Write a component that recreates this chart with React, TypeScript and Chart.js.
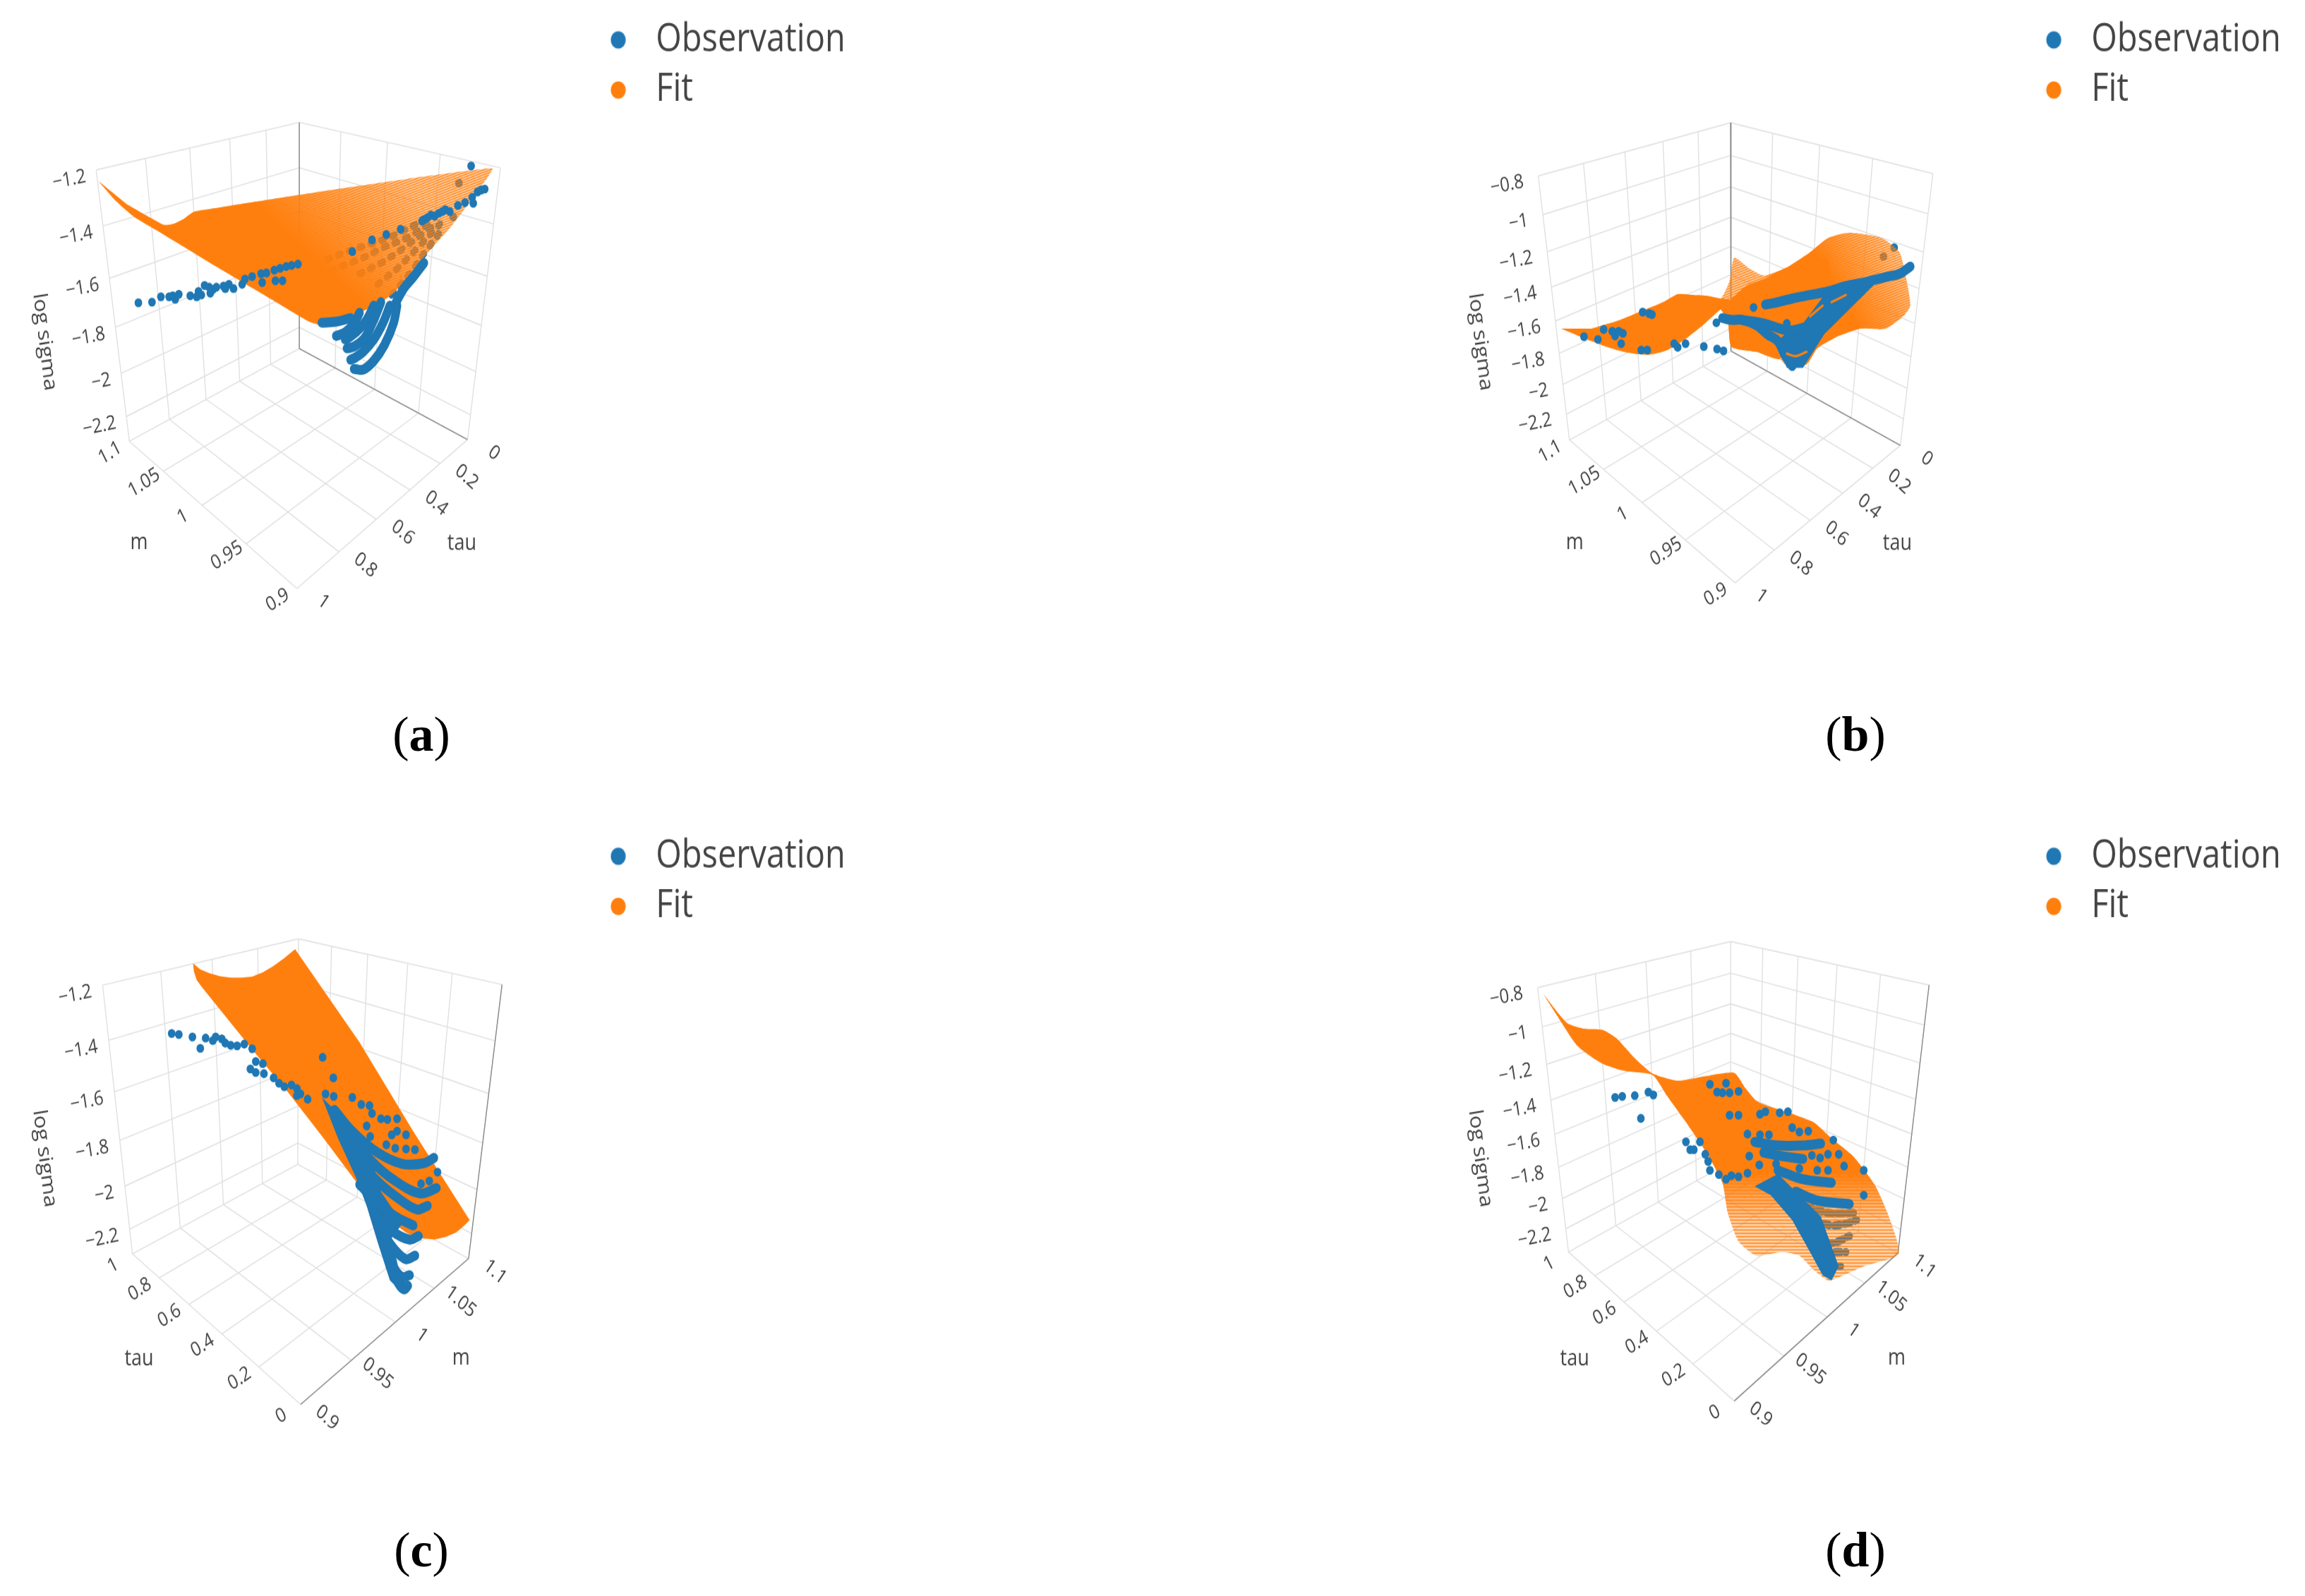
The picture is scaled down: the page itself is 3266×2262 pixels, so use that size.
import React, { useEffect, useRef } from "react";
import { Chart, registerables } from "chart.js";

Chart.register(...registerables);

type P = number[];

// ---- axis tick values ----
const TAU_TICKS = [0, 0.2, 0.4, 0.6, 0.8, 1];
const M_TICKS = [0.9, 0.95, 1, 1.05, 1.1];
const Z_TICKS_AC = [-2.2, -2, -1.8, -1.6, -1.4, -1.2];
const Z_TICKS_BD = [-2.2, -2, -1.8, -1.6, -1.4, -1.2, -1, -0.8];

const SERIES_NAMES = ["Observation", "Fit"];
const BLUE = "#1f77b4";
const ORANGE = "#ff7f0e";

// ---- panel (a): values read in the plane of the picture ----
const A_FIT_ALL: P[] = [[271,250],[320,306],[370,350],[450,398],[600,490],[700,550],[800,610],[860,645],[895,655],[930,650],[1000,620],[1060,590],[1100,560],[1150,500],[1200,440],[1250,385],[1300,320],[1340,265],[1370,213],[540,335],[510,355],[480,370],[455,373],[420,355],[350,315]];
const A_OBS_DOTS: P[] = [[382,592],[420,590],[445,575],[468,575],[485,582],[478,572],[495,568],[527,572],[545,575],[558,570],[550,560],[567,543],[580,548],[590,555],[583,565],[600,548],[620,545],[635,540],[648,552],[625,552],[672,540],[680,525],[700,518],[728,535],[725,510],[740,508],[765,530],[785,530],[762,500],[778,495],[795,490],[810,487],[828,483],[980,448],[1035,415],[1075,400],[1115,385],[1180,358],[1200,345],[1222,340],[1240,330],[1252,335],[1275,318],[1295,310],[1315,295],[1318,312],[1330,280],[1350,272],[1312,207],[1175,362],[1190,352],[1210,348],[1232,335],[1340,275]];
const A_OBS_BEHIND: P[][] = [
  [[910,470],[960,450],[1020,430],[1100,400],[1170,365]],
  [[920,500],[1000,470],[1060,440],[1130,410],[1210,360]],
  [[1000,510],[1060,480],[1120,440],[1200,380]],
  [[1050,540],[1100,500],[1160,440],[1225,370]],
  [[1090,570],[1140,510],[1190,440],[1235,380]],
];
const A_OBS_BEHIND_DOTS: P[] = [[1278,255],[1262,350]];
const A_OBS_FAN: P[][] = [
  [[1105,600],[1095,650],[1070,710],[1040,755],[1010,780],[985,778]],
  [[1085,600],[1065,650],[1040,695],[1010,730],[985,748],[975,752]],
  [[1060,590],[1040,640],[1015,690],[985,715],[965,720]],
  [[1040,600],[1020,640],[995,670],[970,690],[960,695]],
  [[1000,620],[985,650],[960,675],[935,685]],
  [[975,635],[935,645],[895,648]],
  [[1180,480],[1150,520],[1125,550],[1100,595]],
];

// ---- panel (b) ----
const B_FIT_ALL: P[] = [[355,665],[420,692],[480,715],[540,732],[600,738],[650,725],[700,695],[750,655],[800,610],[820,640],[830,715],[900,730],[965,750],[985,770],[1040,765],[1070,720],[1120,690],[1190,665],[1260,665],[1310,630],[1330,600],[1320,530],[1300,450],[1250,410],[1160,395],[1100,410],[1050,450],[990,490],[920,515],[880,495],[838,465],[825,530],[800,580],[760,572],[720,570],[680,568],[640,590],[580,615],[520,640],[440,665]];
const B_FIT_SOLID_L: P[] = [[355,665],[420,692],[480,715],[540,732],[600,738],[650,725],[700,695],[750,655],[800,610],[830,585],[800,580],[760,572],[720,570],[680,568],[640,590],[580,615],[520,640],[440,665]];
const B_FIT_SOLID_R: P[] = [[800,610],[820,640],[830,715],[900,730],[965,750],[1000,690],[1100,600],[1100,470],[1050,470],[990,490],[920,525],[870,545],[820,590]];
const B_OBS_DOTS: P[] = [[418,687],[457,695],[473,667],[497,672],[505,685],[515,672],[527,678],[522,707],[582,618],[600,622],[608,625],[578,725],[595,725],[670,707],[680,717],[702,707],[753,715],[790,722],[808,727],[788,648],[892,605],[985,650]];
const B_OBS_BEHIND_DOTS: P[] = [[1255,462],[1285,437],[625,630],[640,630],[655,630]];
const B_OBS_BANDS: P[][] = [
  [[805,635],[830,640],[860,640],[900,655],[930,680],[960,700],[980,740],[1000,770]],
  [[925,597],[960,590],[1000,580],[1050,570],[1100,560],[1150,545],[1200,535],[1260,520],[1300,510],[1330,490]],
  [[860,640],[920,650],[990,670],[1040,660]],
];
const B_OBS_WEDGE: P[] = [[960,700],[985,775],[1030,775],[1090,680],[1140,630],[1200,570],[1240,530],[1150,545],[1090,570],[1060,610],[1030,650],[980,680]];
const B_FIT_STREAKS: P[][] = [
  [[985,735],[1010,742],[1040,730]],
  [[1110,590],[1150,570]],
  [[960,640],[1000,622],[1045,612]],
  [[1050,630],[1085,600]],
];

// ---- panel (c) ----
const C_FIT_ALL: P[] = [[535,148],[555,165],[580,175],[610,184],[640,188],[670,188],[700,185],[730,173],[760,155],[790,133],[820,108],[1000,370],[1150,620],[1308,870],[1290,888],[1270,905],[1240,918],[1210,925],[1180,922],[1150,915],[1130,905],[1070,860],[1000,775],[900,640],[800,510],[700,390],[600,265],[560,215],[545,195],[537,170]];
const C_OBS_DOTS: P[] = [[475,345],[495,348],[533,355],[555,387],[570,358],[590,365],[598,355],[615,360],[625,372],[640,378],[658,380],[678,375],[700,388],[710,424],[730,430],[695,445],[710,455],[733,458],[760,470],[775,485],[790,495],[810,490],[825,500],[835,515],[855,530],[825,520],[897,412],[927,470],[905,515],[928,522],[980,525],[1005,545],[1028,548],[1035,570],[1060,585],[1078,587],[1105,585],[1105,620],[1130,630],[1020,605],[1030,635],[1075,658],[1100,668],[1130,670],[1155,672],[1090,630],[1208,695],[1218,735],[1195,760],[1172,768],[1210,780]];
const C_OBS_FAN: P[][] = [
  [[930,560],[980,620],[1050,680],[1120,712],[1180,710],[1208,695]],
  [[960,610],[1030,700],[1100,760],[1170,795],[1215,780]],
  [[980,680],[1050,760],[1110,810],[1160,840],[1190,830]],
  [[1000,770],[1050,820],[1100,860],[1150,885]],
  [[1040,850],[1090,900],[1140,925],[1165,915]],
  [[1060,900],[1100,955],[1130,980],[1155,970]],
  [[1070,950],[1100,1010],[1120,1030],[1140,1025]],
  [[1085,1000],[1110,1050],[1125,1065],[1135,1055]],
];
const C_OBS_WEDGE: P[] = [[895,525],[960,590],[1040,720],[1060,790],[1120,880],[1090,920],[1110,1010],[1135,1060],[1115,1070],[1085,1040],[1050,930],[1020,830],[990,750],[940,640]];

// ---- panel (d) ----
const D_UPPER: P[] = [[305,235],[370,315],[420,332],[470,335],[510,360],[560,415],[610,458],[680,478],[760,465],[838,456],[870,500],[900,535],[950,555],[1010,575],[1060,595],[1110,640],[1170,690],[1230,770]];
const D_LOWER_HATCH: P[] = [[1270,860],[1298,965],[1200,1000],[1120,1035],[1100,1040],[1060,1010],[1020,970],[970,960],[900,970],[850,930],[820,850],[805,765]];
const D_LEFT_EDGE: P[] = [[760,680],[700,590],[650,520],[610,462],[530,450],[470,430],[400,380],[340,290]];
const D_OBS_DOTS: P[] = [[505,525],[525,522],[560,520],[598,510],[612,518],[577,584],[703,650],[715,672],[725,672],[742,650],[757,685],[765,705],[770,730],[795,742],[815,755],[830,745],[850,748],[875,738],[770,488],[790,510],[815,485],[805,512],[825,512],[850,508],[825,575],[850,575],[910,572],[925,565],[965,568],[988,565],[875,628],[910,630],[935,630],[880,690],[908,715],[955,712],[1055,688],[1078,695],[1100,685],[1130,685],[1070,730],[1100,730],[1145,718],[1020,725],[1200,730],[1200,800],[1000,610],[1020,622],[1045,620],[1115,645]];
const D_OBS_BANDS: P[][] = [
  [[895,650],[960,660],[1030,660],[1080,655]],
  [[920,680],[970,690],[1030,698]],
  [[960,730],[1030,755],[1110,765]],
  [[1010,790],[1070,815],[1160,825]],
];
const D_OBS_WEDGE: P[] = [[895,775],[960,740],[1010,790],[1080,860],[1130,1000],[1110,1040],[1085,1025],[1050,960],[1000,870],[940,800]];
const D_OBS_BEHIND: P[][] = [
  [[1040,830],[1100,850],[1175,850]],
  [[1060,870],[1110,885],[1150,880],[1180,870]],
  [[1070,920],[1110,935],[1160,915]],
  [[1090,960],[1150,960]],
  [[1100,1000],[1135,1000]],
];

// ---- layout of the four panels (crop units: 1.96 per page pixel) ----
const UNIT = 1.96;
const STRETCH = 1.17;
const BMP_W = 1203;
const BMP_H = 860;
const AREA_W = 848;
const SHIFT_X = 3;
const SHIFT_Y = 4;

type Corner = [number, number, number, number, number];

const PANELS: any[] = [
  { id: "a", left: 0, top: 13, cropX: 0, cropY: 130, zMin: -2.32, zMax: -1.2, zTicks: Z_TICKS_AC, flip: false,
    corners: [[1,1,0,360,985],[1,0,0,820,1395],[0,0,0,1305,975],[0,1,0,830,720],[1,1,1,265,215],[0,1,1,830,85],[0,0,1,1395,215]] as Corner[],
    zOff: [-29, 18], mTitle: [384,1266], tauTitle: [1286,1269], zTitle: [120,702] },
  { id: "b", left: 2034, top: 13, cropX: 2030, cropY: 130, zMin: -2.38, zMax: -0.8, zTicks: Z_TICKS_BD, flip: false,
    corners: [[1,1,0,380,980],[1,0,0,835,1380],[0,0,0,1305,990],[0,1,0,828,728],[1,1,1,292,232],[0,1,1,825,85],[0,0,1,1395,232]] as Corner[],
    zOff: [-41, 16], mTitle: [392,1266], tauTitle: [1294,1269], zTitle: [128,702] },
  { id: "c", left: 0, top: 1170, cropX: 0, cropY: 1290, zMin: -2.32, zMax: -1.2, zTicks: Z_TICKS_AC, flip: true,
    corners: [[1,0,0,368,965],[0,0,0,832,1390],[0,1,0,1308,975],[1,1,0,825,715],[1,0,1,282,208],[1,1,1,830,78],[0,1,1,1398,210]] as Corner[],
    zOff: [-31, 18], mTitle: [1284,1259], tauTitle: [384,1262], zTitle: [120,697] },
  { id: "d", left: 2034, top: 1170, cropX: 2030, cropY: 1290, zMin: -2.36, zMax: -0.8, zTicks: Z_TICKS_BD, flip: true,
    corners: [[1,0,0,378,968],[0,0,0,832,1375],[0,1,0,1298,965],[1,1,0,828,700],[1,0,1,290,210],[1,1,1,825,90],[0,1,1,1385,210]] as Corner[],
    zOff: [-41, 16], mTitle: [1292,1259], tauTitle: [392,1262], zTitle: [128,697] },
];

const CAPTIONS = [
  { id: "a", x: 597, y: 1041 },
  { id: "b", x: 2629, y: 1041 },
  { id: "c", x: 597, y: 2197 },
  { id: "d", x: 2629, y: 2197 },
];

// ---- perspective of the box, solved from its corners ----
function solve(A: number[][], b: number[]): number[] {
  const n = b.length;
  const M = A.map((r, i) => [...r, b[i]]);
  for (let c = 0; c < n; c++) {
    let piv = c;
    for (let r = c + 1; r < n; r++) if (Math.abs(M[r][c]) > Math.abs(M[piv][c])) piv = r;
    [M[c], M[piv]] = [M[piv], M[c]];
    for (let r = 0; r < n; r++) {
      if (r === c) continue;
      const f = M[r][c] / M[c][c];
      for (let k = c; k <= n; k++) M[r][k] -= f * M[c][k];
    }
  }
  return M.map((r, i) => r[n] / r[i]);
}

function makeProjector(corners: Corner[]) {
  const rows: number[][] = [];
  const rhs: number[] = [];
  corners.forEach(([t, m, z, sx, sy]) => {
    const x = sx / 1000, y = sy / 1000;
    rows.push([t, m, z, 1, 0, 0, 0, 0, -x * t, -x * m, -x * z]); rhs.push(x);
    rows.push([0, 0, 0, 0, t, m, z, 1, -y * t, -y * m, -y * z]); rhs.push(y);
  });
  const N = 11;
  const AtA = Array.from({ length: N }, () => new Array(N).fill(0));
  const Atb = new Array(N).fill(0);
  rows.forEach((r, i) => {
    for (let a = 0; a < N; a++) {
      Atb[a] += r[a] * rhs[i];
      for (let b = 0; b < N; b++) AtA[a][b] += r[a] * r[b];
    }
  });
  const h = solve(AtA, Atb);
  return (t: number, m: number, z: number) => {
    const w = h[8] * t + h[9] * m + h[10] * z + 1;
    return {
      x: (1000 * (h[0] * t + h[1] * m + h[2] * z + h[3])) / w,
      y: (1000 * (h[4] * t + h[5] * m + h[6] * z + h[7])) / w,
    };
  };
}

const pts = (a: P[]) => a.map(([x, y]) => ({ x, y }));

function hatch(color: string, lw: number, w: number, h: number, rising: boolean) {
  const c = document.createElement("canvas");
  c.width = w;
  c.height = h;
  const g = c.getContext("2d")!;
  g.fillStyle = "rgba(255,127,14,0.32)";
  g.fillRect(0, 0, w, h);
  g.strokeStyle = color;
  g.lineWidth = lw;
  g.beginPath();
  for (let i = -1; i <= 1; i++) {
    if (rising) {
      g.moveTo(0, h + i * h);
      g.lineTo(w, i * h);
    } else {
      g.moveTo(0, h / 2 + i * h);
      g.lineTo(w, h / 2 + i * h);
    }
  }
  g.stroke();
  return g.createPattern(c, "repeat")!;
}

function legendDot(color: string) {
  const c = document.createElement("canvas");
  c.width = 64;
  c.height = 40;
  const g = c.getContext("2d")!;
  g.fillStyle = color;
  g.beginPath();
  g.arc(24.3, 20, 10.6, 0, Math.PI * 2);
  g.fill();
  return c;
}

const dots = (a: P[], r = 5.4) => ({ data: pts(a), showLine: false, pointRadius: r, pointBackgroundColor: BLUE, pointBorderWidth: 0 });
const ribbon = (a: P[], w = 12, color = BLUE, dash?: number[]) => ({
  data: pts(a), showLine: true, pointRadius: 0, borderColor: color, borderWidth: w, tension: 0.35,
  borderCapStyle: "round", borderJoinStyle: "round", borderDash: dash || [],
});
const shape = (a: P[], fill: any, tension = 0.2) => ({
  data: pts(a), showLine: true, pointRadius: 0, borderWidth: 0, tension, fill: "shape", backgroundColor: fill,
});

function paintLayers(id: string, ctx: CanvasRenderingContext2D, xMin: number, yMin: number) {
  const rising = hatch("rgba(255,127,14,0.9)", 1.5, 9, 3, true);
  const flat = hatch("rgba(255,127,14,0.9)", 1.4, 4, 4, false);
  // surface density: solid at the first point, thinning out towards the second
  const fade = (x0: number, y0: number, x1: number, y1: number) => {
    const g = ctx.createLinearGradient(
      (x0 - xMin) / UNIT, (y0 - yMin) / (UNIT * STRETCH),
      (x1 - xMin) / UNIT, (y1 - yMin) / (UNIT * STRETCH),
    );
    g.addColorStop(0, "rgba(255,127,14,1)");
    g.addColorStop(1, "rgba(255,127,14,0)");
    return g;
  };
  if (id === "a") return [
    ...A_OBS_BEHIND.map((c) => ribbon(c, 9, BLUE, [4, 12])),
    dots(A_OBS_BEHIND_DOTS),
    shape(A_FIT_ALL, rising),
    shape(A_FIT_ALL, fade(880, 470, 1066, 197)),
    ...A_OBS_FAN.map((c) => ribbon(c)),
    dots(A_OBS_DOTS),
  ];
  if (id === "b") return [
    dots(B_OBS_BEHIND_DOTS),
    shape(B_FIT_ALL, rising),
    shape(B_FIT_SOLID_L, ORANGE),
    shape(B_FIT_ALL.slice(13, 28), fade(1130, 560, 1280, 440)),
    shape(B_FIT_SOLID_R, ORANGE),
    shape(B_OBS_WEDGE, BLUE, 0),
    ...B_OBS_BANDS.map((c) => ribbon(c)),
    ...B_FIT_STREAKS.map((c) => ribbon(c, 3, ORANGE)),
    dots(B_OBS_DOTS),
  ];
  if (id === "c") return [
    shape(C_FIT_ALL, ORANGE, 0),
    shape(C_OBS_WEDGE, BLUE, 0),
    ...C_OBS_FAN.map((c) => ribbon(c)),
    dots(C_OBS_DOTS),
  ];
  const dOutline = [...D_UPPER, ...D_LOWER_HATCH, ...D_LEFT_EDGE];
  return [
    ...D_OBS_BEHIND.map((c) => ribbon(c, 10, BLUE, [8, 7])),
    shape(dOutline, flat),
    shape(dOutline, fade(1000, 740, 1000, 880)),
    shape(D_OBS_WEDGE, BLUE, 0),
    ...D_OBS_BANDS.map((c) => ribbon(c)),
    dots(D_OBS_DOTS),
  ];
}

const fmt = (v: number) => String(v).replace("-", "\u2212");

function PanelChart({ panel }: { panel: any }) {
  const ref = useRef<HTMLCanvasElement>(null);
  useEffect(() => {
    const project = makeProjector(panel.corners);
    const zU = (z: number) => (z - panel.zMin) / (panel.zMax - panel.zMin);
    const mU = (m: number) => (m - 0.9) / 0.2;
    const grid: any[] = [];
    const seg = (a: any, b: any) => { grid.push(a, b, { x: NaN, y: NaN }); };
    const kTau = panel.flip ? 1 : 0; // tau of the back wall
    const zs = [...panel.zTicks, panel.zMin, panel.zMax];
    // floor
    TAU_TICKS.forEach((t) => seg(project(t, 0, 0), project(t, 1, 0)));
    M_TICKS.forEach((m) => seg(project(0, mU(m), 0), project(1, mU(m), 0)));
    // the wall at m = 1.1 and the wall at the far tau
    const farM = 1;
    TAU_TICKS.forEach((t) => seg(project(t, farM, 0), project(t, farM, 1)));
    M_TICKS.forEach((m) => seg(project(kTau, mU(m), 0), project(kTau, mU(m), 1)));
    zs.forEach((z) => {
      seg(project(0, farM, zU(z)), project(1, farM, zU(z)));
      seg(project(kTau, 0, zU(z)), project(kTau, 1, zU(z)));
    });
    const dark = panel.flip
      ? [project(0, 0, 0), project(0, 1, 0), { x: NaN, y: NaN }, project(0, 1, 0), project(0, 1, 1)]
      : [project(0, 1, 1), project(0, 1, 0), { x: NaN, y: NaN }, project(0, 1, 0), project(0, 0, 0)];

    const xMin = (panel.left - panel.cropX + SHIFT_X) * UNIT;
    const yMin = (panel.top - panel.cropY + SHIFT_Y) * UNIT;

    const layers: any[] = [
      { data: grid, showLine: true, pointRadius: 0, borderColor: "#e0e0e0", borderWidth: 1.4, tension: 0, spanGaps: false },
      { data: dark, showLine: true, pointRadius: 0, borderColor: "#8a8a8a", borderWidth: 1.4, tension: 0, spanGaps: false },
      ...paintLayers(panel.id, ref.current!.getContext("2d")!, xMin, yMin),
    ];
    layers.forEach((d, i) => { d.order = -i; });

    const labelPlugin = {
      id: "axisText",
      afterDraw(chart: any) {
        const { ctx } = chart;
        const sx = (v: number) => chart.scales.x.getPixelForValue(v);
        const sy = (v: number) => chart.scales.y.getPixelForValue(v);
        const text = (s: string, x: number, y: number, angle: number, size: number, align = "center") => {
          ctx.save();
          ctx.translate(sx(x), sy(y));
          ctx.rotate((angle * Math.PI) / 180);
          ctx.font = `${size}px "Open Sans"`;
          ctx.fillStyle = "#444";
          ctx.textAlign = align;
          ctx.textBaseline = "middle";
          ctx.fillText(s, 0, 0);
          ctx.restore();
        };
        panel.zTicks.forEach((z: number) => {
          const q = panel.flip ? project(1, 0, zU(z)) : project(1, 1, zU(z));
          text(fmt(z), q.x + panel.zOff[0], q.y + panel.zOff[1], -10, 24, "right");
        });
        const LF = [-54, 33];
        const RF = [74, 38];
        M_TICKS.forEach((m) => {
          const q = panel.flip ? project(0, mU(m), 0) : project(1, mU(m), 0);
          const o = panel.flip ? RF : LF;
          text(String(m), q.x + o[0], q.y + o[1], panel.flip ? 38 : -30, 24);
        });
        TAU_TICKS.forEach((t) => {
          const q = project(t, 0, 0);
          const o = panel.flip ? LF : RF;
          text(String(t), q.x + o[0], q.y + o[1], panel.flip ? -30 : 38, 24);
        });
        text("m", panel.mTitle[0], panel.mTitle[1], 0, 27);
        text("tau", panel.tauTitle[0], panel.tauTitle[1], 0, 27);
        text("log sigma", panel.zTitle[0], panel.zTitle[1], 82, 27);
      },
    };

    const chart = new Chart(ref.current!, {
      type: "scatter",
      data: { datasets: layers },
      plugins: [labelPlugin],
      options: {
        animation: false,
        responsive: false,
        devicePixelRatio: 1,
        events: [],
        layout: { padding: 0 },
        scales: {
          x: { type: "linear", display: false, min: xMin, max: xMin + AREA_W * UNIT },
          y: { type: "linear", display: false, reverse: true, min: yMin, max: yMin + BMP_H * STRETCH * UNIT },
        },
        plugins: {
          tooltip: { enabled: false },
          title: { display: false },
          legend: {
            position: "right",
            align: "start",
            maxWidth: BMP_W - AREA_W,
            onClick: () => {},
            labels: {
              usePointStyle: true,
              boxWidth: 44,
              boxHeight: 13,
              padding: 13.7,
              color: "#444",
              font: { family: '"Open Sans"', size: 47 },
              generateLabels: () =>
                SERIES_NAMES.map((text, i) => ({
                  text,
                  fillStyle: i ? ORANGE : BLUE,
                  strokeStyle: i ? ORANGE : BLUE,
                  lineWidth: 0,
                  hidden: false,
                  fontColor: "#444",
                  pointStyle: legendDot(i ? ORANGE : BLUE),
                  datasetIndex: i,
                })),
            },
          },
        },
      } as any,
    } as any);
    return () => chart.destroy();
  }, [panel]);

  return (
    <div
      style={{
        position: "absolute",
        left: panel.left,
        top: panel.top,
        width: BMP_W,
        height: BMP_H,
        transform: `scaleY(${STRETCH})`,
        transformOrigin: "0 0",
      }}
    >
      <canvas ref={ref} width={BMP_W} height={BMP_H} />
    </div>
  );
}

export default function App() {
  return (
    <div style={{ position: "absolute", left: 0, top: 0, width: 3266, height: 2262, overflow: "hidden", background: "#fff" }}>
      {PANELS.map((p) => (
        <PanelChart key={p.id} panel={p} />
      ))}
      {CAPTIONS.map((c) => (
        <div
          key={c.id}
          style={{
            position: "absolute",
            left: c.x - 100,
            top: c.y - 50,
            width: 200,
            height: 100,
            lineHeight: "100px",
            textAlign: "center",
            fontFamily: '"Liberation Serif"',
            fontSize: 70,
            color: "#000",
          }}
        >
          (<b>{c.id}</b>)
        </div>
      ))}
    </div>
  );
}
